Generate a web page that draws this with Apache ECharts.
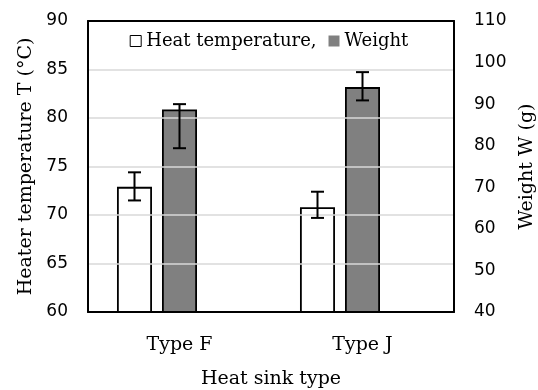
<!DOCTYPE html>
<html>
<head>
<meta charset="utf-8">
<script src="https://cdn.jsdelivr.net/npm/echarts@6/dist/echarts.min.js"></script>
<style>html,body{margin:0;padding:0;background:#fff;}#c{width:538px;height:390px;}</style>
</head>
<body>
<div id="c"></div>
<script>
const categories = ['Type F', 'Type J'];
const heatTemp = [72.9, 70.8];
const heatErrLow = [71.5, 69.7];
const heatErrHigh = [74.4, 72.4];
const weight = [88.7, 94.1];
const weightErrLow = [79.4, 90.9];
const weightErrHigh = [90.0, 97.7];
const leftTicks = {min: 60, max: 90, interval: 5};
const rightTicks = {min: 40, max: 110, interval: 10};

const serif = 'DejaVu Serif';
const sans = 'DejaVu Sans';

function errSeries(yIdx, lows, highs, offset) {
  return {
    type: 'custom',
    yAxisIndex: yIdx,
    silent: true,
    z: 10,
    data: categories.map((c, i) => [i, lows[i], highs[i]]),
    renderItem: function (params, api) {
      const lo = api.coord([api.value(0), api.value(1)]);
      const hi = api.coord([api.value(0), api.value(2)]);
      const x = lo[0] + offset;
      const cap = 6.5;
      const st = {stroke: '#000', lineWidth: 2};
      return {
        type: 'group',
        children: [
          {type: 'line', shape: {x1: x, y1: lo[1], x2: x, y2: hi[1]}, style: st},
          {type: 'line', shape: {x1: x - cap, y1: lo[1], x2: x + cap, y2: lo[1]}, style: st},
          {type: 'line', shape: {x1: x - cap, y1: hi[1], x2: x + cap, y2: hi[1]}, style: st}
        ]
      };
    }
  };
}

const chart = echarts.init(document.getElementById('c'));
chart.setOption({
  animation: false,
  grid: {left: 88, right: 84, top: 21, bottom: 78, containLabel: false, outerBoundsMode: 'none'},
  legend: {
    top: 27,
    left: 'center',
    itemWidth: 11,
    itemHeight: 11,
    itemGap: 12,
    textStyle: {fontFamily: serif, fontSize: 18, color: '#000'},
    formatter: function (n) { return n === 'Heat temperature' ? 'Heat temperature,' : n; },
    data: [
      {name: 'Heat temperature', icon: 'rect', itemStyle: {color: '#fff', borderColor: '#000', borderWidth: 1}},
      {name: 'Weight', icon: 'rect', itemStyle: {color: '#808080', borderWidth: 0}}
    ]
  },
  xAxis: [
    {
      type: 'category',
      data: categories,
      axisTick: {show: false},
      axisLine: {lineStyle: {color: '#000', width: 2}},
      axisLabel: {fontFamily: serif, fontSize: 19, color: '#000', margin: 24},
      name: 'Heat sink type',
      nameLocation: 'middle',
      nameGap: 58,
      nameTextStyle: {fontFamily: serif, fontSize: 19, color: '#000'},
      z: 5
    },
    {
      type: 'category',
      position: 'top',
      data: categories,
      axisTick: {show: false},
      axisLabel: {show: false},
      axisLine: {show: true, lineStyle: {color: '#000', width: 2}},
      z: 5
    }
  ],
  yAxis: [
    {
      type: 'value',
      min: leftTicks.min, max: leftTicks.max, interval: leftTicks.interval,
      axisLine: {show: true, lineStyle: {color: '#000', width: 2}},
      axisTick: {show: false},
      splitLine: {show: true, lineStyle: {color: '#d9d9d9', width: 1.5}},
      axisLabel: {fontFamily: sans, fontSize: 17, color: '#000', margin: 20},
      name: 'Heater temperature T (°C)',
      nameLocation: 'middle',
      nameRotate: 90,
      nameGap: 52,
      nameTextStyle: {fontFamily: serif, fontSize: 19, color: '#000'},
      z: 5
    },
    {
      type: 'value',
      position: 'right',
      min: rightTicks.min, max: rightTicks.max, interval: rightTicks.interval,
      axisLine: {show: true, lineStyle: {color: '#000', width: 2}},
      axisTick: {show: false},
      splitLine: {show: false},
      axisLabel: {fontFamily: sans, fontSize: 17, color: '#000', margin: 20},
      name: 'Weight W (g)',
      nameLocation: 'middle',
      nameRotate: 90,
      nameGap: 63,
      nameTextStyle: {fontFamily: serif, fontSize: 19, color: '#000'},
      z: 5
    }
  ],
  series: [
    {
      name: 'Heat temperature',
      type: 'bar',
      yAxisIndex: 0,
      data: heatTemp,
      barWidth: 35,
      barGap: '28.6%',
      itemStyle: {color: '#fff', borderColor: '#000', borderWidth: 1.8}
    },
    {
      name: 'Weight',
      type: 'bar',
      yAxisIndex: 1,
      data: weight,
      barWidth: 35,
      barGap: '28.6%',
      itemStyle: {color: '#808080', borderColor: '#000', borderWidth: 1.8}
    },
    {
      name: 'spacer',
      type: 'bar',
      yAxisIndex: 0,
      data: [null, null],
      barWidth: 35,
      barGap: '28.6%'
    },
    errSeries(0, heatErrLow, heatErrHigh, -45),
    errSeries(1, weightErrLow, weightErrHigh, 0)
  ]
});
</script>
</body>
</html>
